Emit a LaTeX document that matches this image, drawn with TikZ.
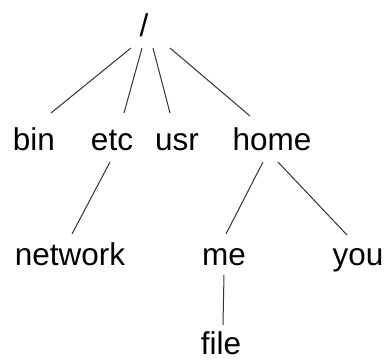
\documentclass[tikz,border=0pt]{standalone}
\usepackage{fontspec}
\setmainfont{Liberation Sans}
\usetikzlibrary{calc}

\begin{document}
\begin{tikzpicture}[x=0.5pt,y=-0.5pt
    , every node/.style={inner sep=0pt,anchor=base}
    , edge/.style={draw=black!80,line width=0.5pt}
]
    \fontsize{15.75}{18}\selectfont
    \useasboundingbox (0,0) rectangle (388,360);

    % Root.
    \node (root) at (144,36) {/};

    % First level.
    \node (bin)  at (34,150)  {bin};
    \node (etc)  at (112,150) {etc};
    \node (usr)  at (177,150) {usr};
    \node (home) at (272,150) {home};

    % Second level.
    \node (network) at (70,265)  {network};
    \node (me)      at (224,265) {me};
    \node (you)     at (358,265) {you};

    % Third level.
    \node (file) at (221,355) {file};

    \draw[edge] ($(root.base)+(-13,12)$) -- ($(bin.base)+(17,-37)$);
    \draw[edge] ($(root.base)+(-2,12)$)  -- ($(etc.base)+(12,-37)$);
    \draw[edge] ($(root.base)+(9,12)$)   -- ($(usr.base)+(-7,-37)$);
    \draw[edge] ($(root.base)+(26,12)$)  -- ($(home.base)+(-22,-34)$);

    \draw[edge] ($(etc.base)+(-2,12)$)  -- ($(network.base)+(2,-31)$);
    \draw[edge] ($(home.base)+(-9,12)$) -- ($(me.base)+(2,-31)$);
    \draw[edge] ($(home.base)+(6,12)$)  -- ($(you.base)+(-11,-30)$);

    \draw[edge] ($(me.base)+(0,10)$) -- ($(file.base)+(2,-30)$);

\end{tikzpicture}
\end{document}
